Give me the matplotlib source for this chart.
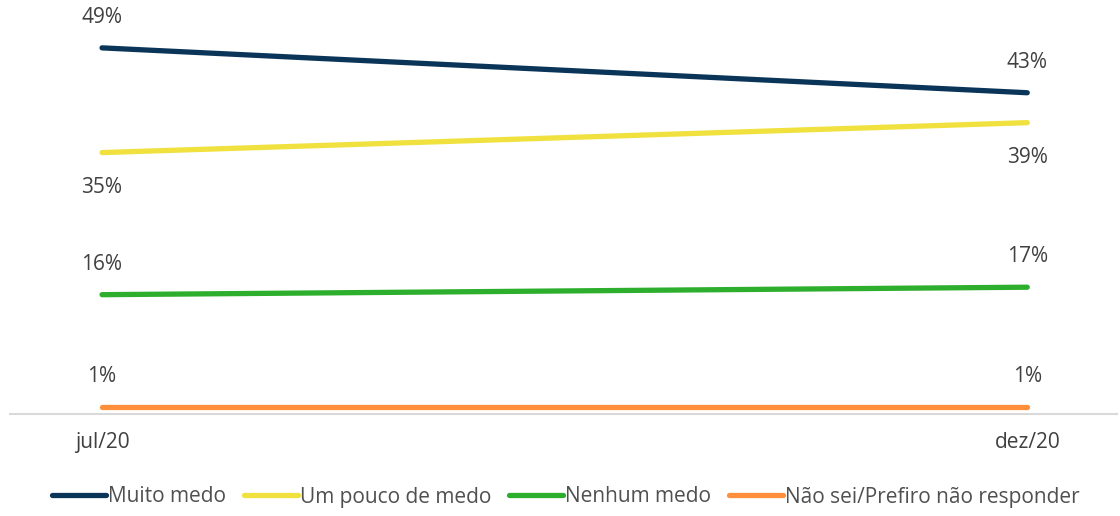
import matplotlib
matplotlib.use("Agg")
from matplotlib import pyplot as plt

# Data
periods = ["jul/20", "dez/20"]
muito_medo = [49, 43]
pouco_medo = [35, 39]
nenhum_medo = [16, 17]
nao_sei = [1, 1]

series = [
    ("Muito medo", muito_medo, "#0B3558", "above"),
    ("Um pouco de medo", pouco_medo, "#F0E13F", "below"),
    ("Nenhum medo", nenhum_medo, "#2DAE2D", "above"),
    ("Não sei/Prefiro não responder", nao_sei, "#FF8F3A", "above"),
]

plt.rcParams['font.family'] = ['Open Sans', 'DejaVu Sans']
text_color = "#404040"
fs = 15

fig = plt.figure(figsize=(11.2, 5.16), dpi=100)
ax = fig.add_axes([10 / 1120, 0.197, 1107 / 1120, 0.803])

x = list(range(len(periods)))
for name, vals, color, pos in series:
    ax.plot(x, vals, color=color, linewidth=3.8, solid_capstyle='round', label=name)
    for xi, v in zip(x, vals):
        dy = 22 if pos == "above" else -25
        ax.annotate("{}%".format(v), (xi, v), xytext=(0, dy), textcoords="offset points",
                    ha="center", va="center", fontsize=fs, color=text_color)

ax.set_xlim(-0.0995, 1.097)
ax.set_ylim(0, 55.4)
ax.set_xticks(x)
ax.set_xticklabels(periods, fontsize=fs, color=text_color)
ax.tick_params(axis='x', length=0, pad=13)
ax.set_yticks([])
for s in ["top", "right", "left"]:
    ax.spines[s].set_visible(False)
ax.spines["bottom"].set_color("#D9D9D9")
ax.spines["bottom"].set_linewidth(1.5)

fig.legend(loc="center", bbox_to_anchor=(0.5 + 6 / 1120, 19 / 516), ncol=4,
           frameon=False, fontsize=fs, handlelength=2.6, handletextpad=0.1,
           columnspacing=0.85, labelcolor="#505050")

fig.savefig("out.png", dpi=100)
